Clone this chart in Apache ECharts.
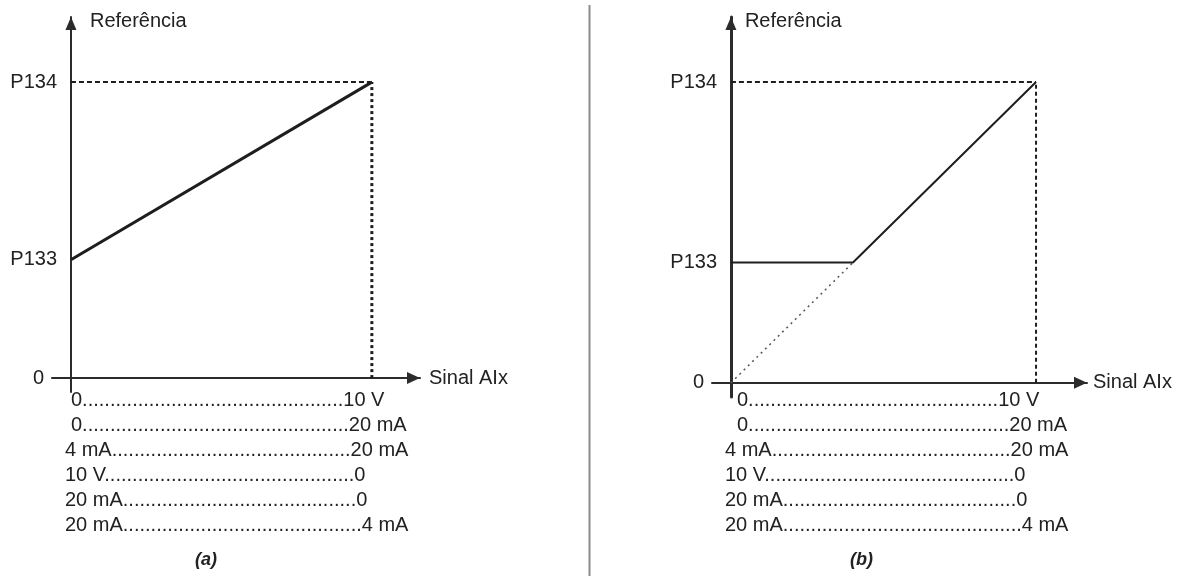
<!DOCTYPE html>
<html>
<head>
<meta charset="utf-8">
<title>Referência x Sinal AIx</title>
<script src="https://cdn.jsdelivr.net/npm/echarts@6/dist/echarts.min.js"></script>
<style>
  html, body { margin: 0; padding: 0; background: #fff; }
  #chart { width: 1178px; height: 576px; }
</style>
</head>
<body>
<div id="chart"></div>
<script>
// valores (P134 = 1, P133 ~ 0.4 de P134)
const yTicks = [0, 0.4, 1];
const yTickNames = ["0", "P133", "P134"];
const lineA = [[0, 0.4], [10, 1]];
const lineB = [[0, 0.4], [4, 0.4], [10, 1]];
const dottedB = [[0, 0], [4, 0.4]];
const dashH = [[0, 1], [10, 1]];
const dashV = [[10, 0], [10, 1]];
// tabela de faixas do sinal
const rowStart = ["0", "0", "4 mA", "10 V", "20 mA", "20 mA"];
const rowEnd = ["10 V", "20 mA", "20 mA", "0", "0", "4 mA"];
const captions = ["(a)", "(b)"];

const FONT = '"Liberation Sans", Arial, sans-serif';
const TXT = "#222";
const AX = "#2b2b2b";

var myChart = echarts.init(document.getElementById("chart"));

// largura do texto para preencher as linhas pontilhadas
var ctx = document.createElement("canvas").getContext("2d");
ctx.font = "20px " + FONT;
function tw(s) { return ctx.measureText(s).width; }

function yLabel(v) {
  var i = yTicks.indexOf(v);
  if (i < 0) return "";
  return i === 0 ? "{z|0}" : yTickNames[i];
}

function makeX(gridIndex, min, max, gap, up, w) {
  return {
    gridIndex: gridIndex,
    type: "value",
    min: min,
    max: max,
    name: "Sinal AIx",
    nameLocation: "end",
    nameGap: gap,
    nameTextStyle: { fontFamily: FONT, fontSize: 20, color: TXT, verticalAlign: "middle", padding: [0, 0, up * 2, 0] },
    axisLine: {
      show: true, onZero: true,
      symbol: ["none", "triangle"], symbolSize: [12, 13], symbolOffset: [0, -6.5],
      lineStyle: { color: AX, width: w }
    },
    axisTick: { show: false },
    axisLabel: { show: false },
    splitLine: { show: false }
  };
}

function makeY(gridIndex, max, w, namePad) {
  return {
    gridIndex: gridIndex,
    type: "value",
    min: -0.047,
    max: max,
    name: "Referência",
    nameLocation: "end",
    nameGap: -4,
    nameTextStyle: { fontFamily: FONT, fontSize: 20, color: TXT, align: "left", verticalAlign: "middle", padding: [0, 0, 0, namePad] },
    axisLine: {
      show: true, onZero: true,
      symbol: ["none", "triangle"], symbolSize: [11, 13], symbolOffset: [0, -6.5],
      lineStyle: { color: AX, width: w }
    },
    axisTick: { show: false },
    axisLabel: {
      show: true,
      customValues: yTicks,
      margin: -5,
      fontFamily: FONT,
      fontSize: 20,
      color: TXT,
      formatter: yLabel,
      rich: { z: { fontFamily: FONT, fontSize: 20, color: TXT, padding: [0, 13, 0, 0] } }
    },
    splitLine: { show: false }
  };
}

function line(data, xi, width, dash, color) {
  return {
    type: "line",
    xAxisIndex: xi,
    yAxisIndex: xi,
    data: data,
    symbol: "none",
    silent: true,
    lineStyle: { color: color || "#1e1e1e", width: width, type: dash || "solid", cap: "butt" },
    z: 3
  };
}

// linhas da tabela abaixo de cada gráfico
var graphics = [];
var rowY0 = 401, rowStep = 25;
var panels = [
  { leftX: 65, indent: 6, endX: [383, 407, 407, 368, 368, 407] },
  { leftX: 725, indent: 12, endX: [1042, 1066, 1066, 1027, 1027, 1066] }
];
panels.forEach(function (p, pi) {
  rowStart.forEach(function (a, i) {
    var x0 = p.leftX + (a === "0" ? p.indent : 0);
    var b = rowEnd[i];
    var room = p.endX[i] - x0 - tw(a) - tw(b);
    var n = Math.max(0, Math.round(room / tw(".")));
    graphics.push({
      type: "text", left: x0, top: rowY0 + i * rowStep - 11,
      style: { text: a + ".".repeat(n) + b, font: "20px " + FONT, fill: TXT }
    });
  });
  graphics.push({
    type: "text", left: (pi === 0 ? 207 : 862) - 12, top: 551,
    style: { text: captions[pi], font: "italic bold 18px " + FONT, fill: TXT }
  });
});
// divisória vertical
graphics.push({ type: "line", shape: { x1: 589.5, y1: 5, x2: 589.5, y2: 576 }, style: { stroke: "#8c8c8c", lineWidth: 2 } });

let option = {
  backgroundColor: "#fff",
  animation: false,
  grid: [
    { left: 52, top: 17, width: 368, height: 375, outerBoundsMode: "none" },
    { left: 712, top: 17, width: 375, height: 380, outerBoundsMode: "none" }
  ],
  xAxis: [
    makeX(0, -0.63, 11.6, 9, 10, 2),
    makeX(1, -0.62, 11.67, 6, 15, 2)
  ],
  yAxis: [
    makeY(0, 1.22, 2, 19),
    makeY(1, 1.216, 3, 14)
  ],
  series: [
    line(dashH, 0, 2, [5, 3]),
    line(dashV, 0, 3, [3, 3]),
    line(lineA, 0, 3),
    line(dashH, 1, 2, [5, 3]),
    line(dashV, 1, 2, [4, 3]),
    line(dottedB, 1, 1.5, [2, 4], "#555"),
    line(lineB, 1, 2)
  ],
  graphic: graphics
};
myChart.setOption(option);
</script>
</body>
</html>
